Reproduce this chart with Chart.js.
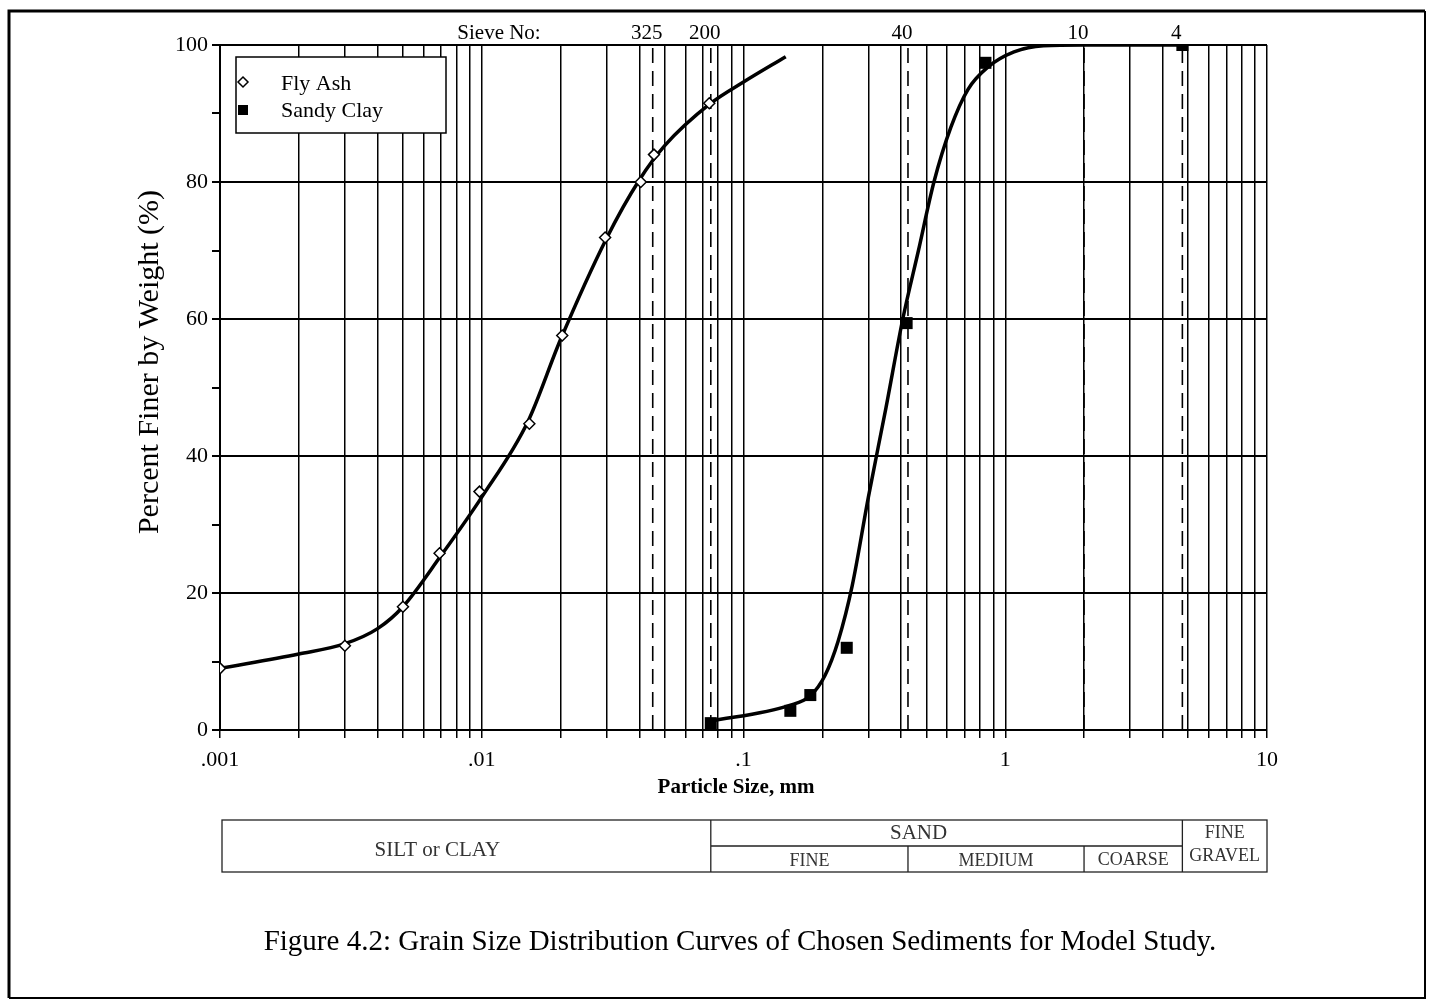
<!DOCTYPE html>
<html>
<head>
<meta charset="utf-8">
<script src="https://cdn.jsdelivr.net/npm/chart.js@4.4.1/dist/chart.umd.min.js"></script>
<style>
  html, body { margin: 0; padding: 0; background: #fff; }
  #wrap { position: relative; width: 1432px; height: 1001px; }
</style>
</head>
<body>
<div id="wrap"><canvas id="grain" width="1432" height="1001"></canvas></div>
<script>
// measured points (mm, % finer)
const flyAshSize = [0.001, 0.003, 0.005, 0.0069, 0.0098, 0.0152, 0.0203, 0.0296, 0.0405, 0.0455, 0.074];
const flyAshFiner = [9, 12.3, 18, 25.8, 34.8, 44.7, 57.6, 71.9, 80, 84, 91.5];
const sandyClaySize = [0.075, 0.151, 0.18, 0.248, 0.42, 0.84, 4.75];
const sandyClayFiner = [1, 2.8, 5.1, 12, 59.4, 97.4, 100];

// fitted curves
const flyAshCurveSize = [0.001, 0.002, 0.003, 0.004, 0.005, 0.007, 0.01, 0.015, 0.02, 0.03, 0.04, 0.05, 0.075, 0.1, 0.145];
const flyAshCurveFiner = [9, 11.1, 12.6, 14.8, 18, 25.5, 34, 45, 57, 71.8, 80.3, 85.3, 91.5, 94.6, 98.3];
const sandyClayCurveSize = [0.073, 0.15, 0.18, 0.205, 0.23, 0.26, 0.3, 0.35, 0.406, 0.466, 0.534, 0.62, 0.72, 0.86, 1.08, 1.4, 2, 4.75];
const sandyClayCurveFiner = [1.2, 3.6, 5, 8, 13, 21, 34, 47, 60, 70, 80, 88, 93.5, 96.8, 99, 99.9, 100, 100];

// sieve sizes (mm) and numbers
const sieveSize = [0.045, 0.075, 0.425, 2.0, 4.75];
const sieveLabels = ["325", "200", "40", "10", "4"];

// axis ticks
const xTickValues = [0.001, 0.01, 0.1, 1, 10];
const xTickLabels = [".001", ".01", ".1", "1", "10"];
const decades = [0.001, 0.01, 0.1, 1];
const yTickLabels = [0, 20, 40, 60, 80, 100];

const serif = '"Liberation Serif", "DejaVu Serif", serif';

function pairs(xs, ys) {
  return xs.map((x, i) => ({ x: x, y: ys[i] }));
}

const gridValues = [];
decades.forEach((d) => {
  for (let m = 1; m <= 9; m++) gridValues.push(Number((d * m).toPrecision(3)));
});
gridValues.push(10);

const sieveSets = sieveSize.map((s) => ({
  label: "sieve " + s,
  data: [{ x: s, y: 0 }, { x: s, y: 100 }],
  borderColor: "#000",
  borderWidth: 1.6,
  borderDash: [15, 8],
  pointRadius: 0,
}));

const decorations = {
  id: "decorations",
  afterDraw(chart) {
    const { ctx, scales } = chart;
    const x = scales.x;
    ctx.save();
    ctx.fillStyle = "#000";
    ctx.strokeStyle = "#000";
    ctx.textBaseline = "middle";

    // sieve numbers above the plot
    ctx.font = "21px " + serif;
    ctx.textAlign = "center";
    ctx.fillText("Sieve No:", 499, 33);
    sieveSize.forEach((s, i) => {
      ctx.fillText(sieveLabels[i], x.getPixelForValue(s) - 6, 33);
    });

    // axis titles
    ctx.font = "bold 21px " + serif;
    ctx.fillText("Particle Size, mm", 736, 788);
    ctx.save();
    ctx.translate(150, 362);
    ctx.rotate(-Math.PI / 2);
    ctx.font = "30px " + serif;
    ctx.fillText("Percent Finer by Weight (%)", 0, 0);
    ctx.restore();

    // legend
    ctx.fillStyle = "#fff";
    ctx.fillRect(236, 57, 210, 76);
    ctx.lineWidth = 1.5;
    ctx.strokeRect(236, 57, 210, 76);
    ctx.beginPath();
    ctx.moveTo(243, 77); ctx.lineTo(248, 82); ctx.lineTo(243, 87); ctx.lineTo(238, 82); ctx.closePath();
    ctx.fill();
    ctx.stroke();
    ctx.fillStyle = "#000";
    ctx.fillRect(238, 105, 10, 10);
    ctx.font = "22px " + serif;
    ctx.textAlign = "left";
    ctx.fillText("Fly Ash", 281, 84);
    ctx.fillText("Sandy Clay", 281, 111);

    // soil classification table
    const L = x.getPixelForValue(0.001) + 2;
    const R = x.right;
    const T = 820, M = 846, B = 872;
    const silt = x.getPixelForValue(sieveSize[1]);
    const med = x.getPixelForValue(sieveSize[2]);
    const coarse = x.getPixelForValue(sieveSize[3]);
    const gravel = x.getPixelForValue(sieveSize[4]);
    ctx.lineWidth = 1.3;
    ctx.strokeStyle = "#222";
    ctx.strokeRect(L, T, R - L, B - T);
    ctx.beginPath();
    ctx.moveTo(silt, T); ctx.lineTo(silt, B);
    ctx.moveTo(gravel, T); ctx.lineTo(gravel, B);
    ctx.moveTo(silt, M); ctx.lineTo(gravel, M);
    ctx.moveTo(med, M); ctx.lineTo(med, B);
    ctx.moveTo(coarse, M); ctx.lineTo(coarse, B);
    ctx.stroke();
    ctx.fillStyle = "#333";
    ctx.textAlign = "center";
    ctx.font = "21px " + serif;
    ctx.fillText("SILT or CLAY", (L + silt) / 2 - 29, 850);
    ctx.fillText("SAND", (silt + gravel) / 2 - 28, 833);
    ctx.font = "18px " + serif;
    ctx.fillText("FINE", (silt + med) / 2, 861);
    ctx.fillText("MEDIUM", (med + coarse) / 2, 861);
    ctx.fillText("COARSE", (coarse + gravel) / 2, 860);
    ctx.fillText("FINE", (gravel + R) / 2, 833);
    ctx.fillText("GRAVEL", (gravel + R) / 2, 856);

    // caption
    ctx.fillStyle = "#000";
    ctx.font = "29px " + serif;
    ctx.fillText("Figure 4.2: Grain Size Distribution Curves of Chosen Sediments for Model Study.", 740, 942);

    // page frame
    ctx.strokeStyle = "#000";
    ctx.lineWidth = 3;
    ctx.beginPath();
    ctx.moveTo(1425, 11); ctx.lineTo(9, 11); ctx.lineTo(9, 998);
    ctx.stroke();
    ctx.lineWidth = 2;
    ctx.beginPath();
    ctx.moveTo(1425, 11); ctx.lineTo(1425, 998); ctx.lineTo(9, 998);
    ctx.stroke();
    ctx.restore();
  },
};

new Chart(document.getElementById("grain"), {
  type: "line",
  data: {
    datasets: [
      {
        label: "Fly Ash",
        data: pairs(flyAshSize, flyAshFiner),
        showLine: false,
        pointStyle: "rectRot",
        pointRadius: 5.5,
        pointBorderWidth: 1.5,
        pointBackgroundColor: "#fff",
        pointBorderColor: "#000",
      },
      {
        label: "Sandy Clay",
        data: pairs(sandyClaySize, sandyClayFiner),
        showLine: false,
        pointStyle: "rect",
        pointRadius: 8.5,
        pointBorderWidth: 0,
        pointBackgroundColor: "#000",
        pointBorderColor: "#000",
      },
      {
        label: "Fly Ash curve",
        data: pairs(flyAshCurveSize, flyAshCurveFiner),
        borderColor: "#000",
        borderWidth: 3.5,
        pointRadius: 0,
        cubicInterpolationMode: "monotone",
      },
      {
        label: "Sandy Clay curve",
        data: pairs(sandyClayCurveSize, sandyClayCurveFiner),
        borderColor: "#000",
        borderWidth: 3.5,
        pointRadius: 0,
        cubicInterpolationMode: "monotone",
      },
      ...sieveSets,
    ],
  },
  options: {
    responsive: false,
    animation: false,
    layout: { padding: { left: 0, top: 45, right: 165, bottom: 0 } },
    plugins: {
      legend: { display: false },
      tooltip: { enabled: false },
    },
    scales: {
      x: {
        type: "logarithmic",
        min: 0.001,
        max: 10,
        afterBuildTicks(scale) {
          scale.ticks = gridValues.map((v) => ({ value: v }));
        },
        afterFit(scale) {
          scale.height = 271;
        },
        grid: {
          color: "#000",
          lineWidth: 1.5,
          tickLength: 8,
          tickColor: "#000",
        },
        border: { color: "#000", width: 2 },
        ticks: {
          autoSkip: false,
          maxRotation: 0,
          padding: 9,
          color: "#000",
          font: { family: serif, size: 22 },
          callback(value) {
            const i = xTickValues.findIndex((v) => Math.abs(v - value) / v < 1e-6);
            return i >= 0 ? xTickLabels[i] : "";
          },
        },
      },
      y: {
        min: 0,
        max: 100,
        afterFit(scale) {
          scale.width = 220;
        },
        grid: {
          color: (c) => (yTickLabels.includes(c.tick.value) ? "#000" : "rgba(0,0,0,0)"),
          lineWidth: 2,
          tickLength: 8,
          tickColor: "#000",
        },
        border: { color: "#000", width: 2 },
        ticks: {
          stepSize: 10,
          padding: 4,
          color: "#000",
          font: { family: serif, size: 22 },
          callback(value) {
            return yTickLabels.includes(value) ? String(value) : "";
          },
        },
      },
    },
  },
  plugins: [decorations],
});
</script>
</body>
</html>
